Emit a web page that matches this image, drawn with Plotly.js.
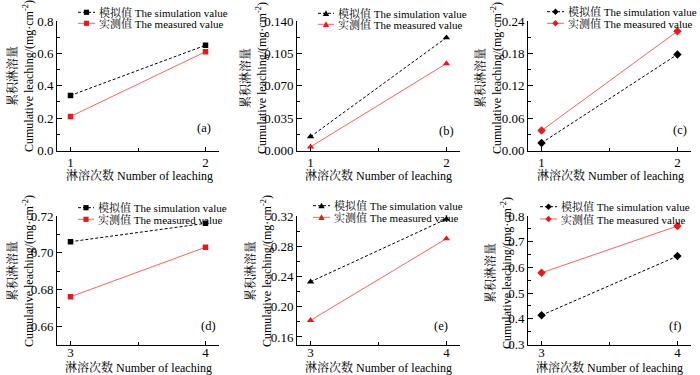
<!DOCTYPE html>
<html>
<head>
<meta charset="utf-8">
<script src="https://cdn.plot.ly/plotly-3.0.1.min.js"></script>
<style>html,body{margin:0;padding:0;background:#fff;}#chart{width:700px;height:375px;}</style>
</head>
<body>
<div id="chart"></div>
<script>
// ---- data ----
const xTop = [1, 2];
const xBottom = [3, 4];
const panelLabels = ['(a)', '(b)', '(c)', '(d)', '(e)', '(f)'];
const simName = '模拟值 The simulation value';
const measName = '实测值 The measured value';
const simA = [0.34, 0.65];   const measA = [0.21, 0.61];
const simB = [0.015, 0.122]; const measB = [0.004, 0.094];
const simC = [0.014, 0.178]; const measC = [0.037, 0.221];
const simD = [0.706, 0.716]; const measD = [0.676, 0.703];
const simE = [0.233, 0.316]; const measE = [0.182, 0.290];
const simF = [0.414, 0.644]; const measF = [0.579, 0.761];
const xTitle = '淋溶次数 Number of leaching';
const yTitle = '累积淋溶量<br>Cumulative leaching/(mg·cm<sup>-2</sup>)';

// ---- layout helpers ----
const W = 700, H = 375;
const px = v => v / W;
const py = v => 1 - v / H;
const FONT = '"Liberation Serif", "Times New Roman", "Noto Serif CJK SC", "Noto Sans CJK SC", serif';
const SIMC = '#000000', LINEC = '#f26565', MEASC = '#e8191c';

const cols = [[57, 219], [297, 460], [528, 691]];
const rows = [[21, 150.5], [216, 344.5]];
const symbols = ['square', 'triangle-up', 'diamond', 'square', 'triangle-up', 'diamond'];
const sims = [simA, simB, simC, simD, simE, simF];
const meas = [measA, measB, measC, measD, measE, measF];
const yCfg = [
  {range: [0, 0.8], dtick: 0.2, tick0: 0, fmt: '.1f'},
  {range: [0, 0.14], dtick: 0.035, tick0: 0, fmt: '.3f'},
  {range: [0, 0.24], dtick: 0.06, tick0: 0, fmt: '.2f'},
  {range: [0.65, 0.72], dtick: 0.02, tick0: 0.66, fmt: '.2f'},
  {range: [0.15, 0.32], dtick: 0.04, tick0: 0.16, fmt: '.2f'},
  {range: [0.3, 0.8], dtick: 0.1, tick0: 0.3, fmt: '.1f'}
];
// legend anchor (sample line start x, end x, text x, row1 y, row2 y) in px
const legendPos = [
  [78, 95, 97, 12.3, 23.3],
  [318, 334, 336, 13.3, 24.3],
  [547, 564, 566, 11.7, 23.3],
  [78, 94, 96, 207.7, 219.3],
  [313, 330, 332, 205.7, 217.3],
  [540, 557, 559, 206.7, 219]
];
const labelPos = [[204, 128], [446, 131], [680, 130], [208, 326], [441, 326], [675, 326]];
const yTitlePos = [[20, 76], [254, 78], [489, 78], [20, 271], [258, 271], [498, 273]];
const xTitlePos = [[139, 175], [378, 175], [610, 175], [138, 367], [378, 367], [609, 367]];

const traces = [];
const layout = {
  width: W, height: H,
  margin: {l: 0, r: 0, t: 0, b: 0},
  paper_bgcolor: '#fff', plot_bgcolor: '#fff',
  showlegend: false,
  font: {family: FONT, size: 12.5, color: '#000'},
  annotations: [], shapes: []
};

function markerShape(sym, cx, cy, color) {
  const s = 2.6;
  if (sym === 'square') {
    return {type: 'rect', xref: 'paper', yref: 'paper', x0: px(cx - s), x1: px(cx + s), y0: py(cy + s), y1: py(cy - s), fillcolor: color, line: {width: 0}};
  } else if (sym === 'triangle-up') {
    const path = `M${px(cx - 3.2)},${py(cy + 2.6)} L${px(cx + 3.2)},${py(cy + 2.6)} L${px(cx)},${py(cy - 3)} Z`;
    return {type: 'path', xref: 'paper', yref: 'paper', path: path, fillcolor: color, line: {width: 0}};
  } else {
    const path = `M${px(cx - 3.2)},${py(cy)} L${px(cx)},${py(cy - 3.2)} L${px(cx + 3.2)},${py(cy)} L${px(cx)},${py(cy + 3.2)} Z`;
    return {type: 'path', xref: 'paper', yref: 'paper', path: path, fillcolor: color, line: {width: 0}};
  }
}

for (let i = 0; i < 6; i++) {
  const n = i + 1;
  const xa = n === 1 ? 'xaxis' : 'xaxis' + n;
  const ya = n === 1 ? 'yaxis' : 'yaxis' + n;
  const xr = n === 1 ? 'x' : 'x' + n;
  const yr = n === 1 ? 'y' : 'y' + n;
  const col = cols[i % 3], row = rows[Math.floor(i / 3)];
  const xs = i < 3 ? xTop : xBottom;
  const msize = symbols[i] === 'square' ? 5.5 : 6.5;

  traces.push({
    type: 'scatter', mode: 'lines+markers', name: simName, x: xs, y: sims[i], xaxis: xr, yaxis: yr,
    line: {color: SIMC, width: 1, dash: '3px,2px'},
    marker: {symbol: symbols[i], size: msize, color: SIMC}
  });
  traces.push({
    type: 'scatter', mode: 'lines+markers', name: measName, x: xs, y: meas[i], xaxis: xr, yaxis: yr,
    line: {color: LINEC, width: 1},
    marker: {symbol: symbols[i], size: msize, color: MEASC}
  });

  layout[xa] = {
    domain: [px(col[0]), px(col[1])], anchor: yr,
    range: i < 3 ? [0.9, 2.1] : [2.9, 4.1],
    tickmode: 'array', tickvals: xs, ticktext: xs.map(String),
    ticks: 'inside', ticklen: 4, tickwidth: 1, tickcolor: '#000',
    ticklabelstandoff: i < 3 ? 0 : -4,
    minor: {tickmode: 'array', tickvals: [xs[0] + 0.5], ticks: 'inside', ticklen: 3, tickcolor: '#000'},
    showline: true, linecolor: '#000', linewidth: 1, mirror: false,
    showgrid: false, zeroline: false, fixedrange: true,
    tickfont: {family: FONT, size: 13}
  };
  const c = yCfg[i];
  layout[ya] = {
    domain: [py(row[1]), py(row[0])], anchor: xr,
    range: c.range, tickmode: 'linear', tick0: c.tick0, dtick: c.dtick, tickformat: c.fmt,
    ticks: 'inside', ticklen: 4.5, tickwidth: 1, tickcolor: '#000',
    minor: {dtick: c.dtick / 2, tick0: c.tick0, ticks: 'inside', ticklen: 2.5, tickcolor: '#000'},
    showline: true, linecolor: '#000', linewidth: 1, mirror: false,
    showgrid: false, zeroline: false, fixedrange: true,
    tickfont: {family: FONT, size: 13}
  };

  // panel label
  layout.annotations.push({xref: 'paper', yref: 'paper', x: px(labelPos[i][0]), y: py(labelPos[i][1]),
    text: panelLabels[i], showarrow: false, xanchor: 'center', yanchor: 'middle', font: {family: FONT, size: 12.5}});
  // y title
  layout.annotations.push({xref: 'paper', yref: 'paper', x: px(yTitlePos[i][0]), y: py(yTitlePos[i][1]),
    text: yTitle, textangle: -90, showarrow: false, xanchor: 'center', yanchor: 'middle', font: {family: FONT, size: 12}});
  // x title
  layout.annotations.push({xref: 'paper', yref: 'paper', x: px(xTitlePos[i][0]), y: py(xTitlePos[i][1]),
    text: xTitle, showarrow: false, xanchor: 'center', yanchor: 'middle', font: {family: FONT, size: 12}});

  // manual legend
  const L = legendPos[i];
  const mid = (L[0] + L[1]) / 2;
  layout.shapes.push({type: 'line', xref: 'paper', yref: 'paper', x0: px(L[0]), x1: px(L[1]), y0: py(L[3]), y1: py(L[3]), line: {color: SIMC, width: 1, dash: '3px,2px'}});
  layout.shapes.push(markerShape(symbols[i], mid, L[3], SIMC));
  layout.shapes.push({type: 'line', xref: 'paper', yref: 'paper', x0: px(L[0]), x1: px(L[1]), y0: py(L[4]), y1: py(L[4]), line: {color: LINEC, width: 1}});
  layout.shapes.push(markerShape(symbols[i], mid, L[4], MEASC));
  layout.annotations.push({xref: 'paper', yref: 'paper', x: px(L[2]), y: py(L[3]), text: simName, showarrow: false,
    xanchor: 'left', yanchor: 'middle', font: {family: FONT, size: 11}});
  layout.annotations.push({xref: 'paper', yref: 'paper', x: px(L[2]), y: py(L[4]), text: measName, showarrow: false,
    xanchor: 'left', yanchor: 'middle', font: {family: FONT, size: 11}});
}

Plotly.newPlot('chart', traces, layout, {displayModeBar: false, staticPlot: true});
</script>
</body>
</html>
